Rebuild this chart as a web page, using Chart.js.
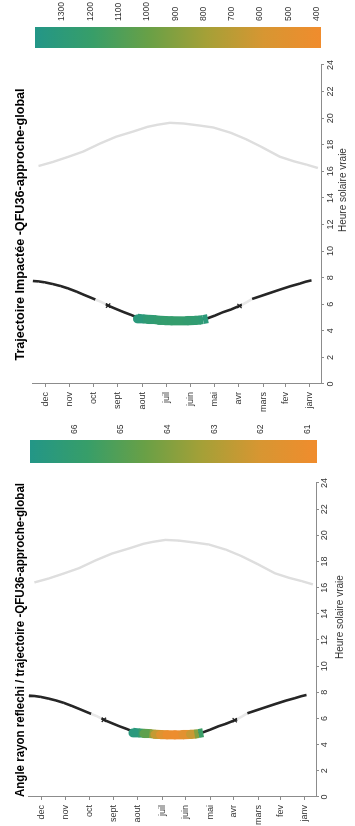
<!DOCTYPE html>
<html lang="fr">
<head>
<meta charset="utf-8">
<title>QFU36 approche global</title>
<script src="https://cdn.jsdelivr.net/npm/chart.js@4.4.1/dist/chart.umd.min.js"></script>
<style>
  html, body { margin: 0; padding: 0; background: #fff; overflow: hidden; }
  body { width: 355px; height: 826px; position: relative; }
  /* the sheet is laid out landscape, then turned a quarter turn */
  #sheet { position: absolute; left: 0; top: 0; width: 826px; height: 355px;
           transform-origin: 0 0; transform: translate(0, 826px) rotate(-90deg); }
  #sheet canvas { position: absolute; top: 0; }
</style>
</head>
<body>
<div id="sheet">
  <canvas id="angle" width="413" height="355" style="left:0"></canvas>
  <canvas id="angleBar" width="63" height="355" style="left:350px"></canvas>
  <canvas id="impact" width="413" height="355" style="left:413px"></canvas>
  <canvas id="impactBar" width="63" height="355" style="left:763px"></canvas>
</div>
<script>
// ---------------- data (day of year / true solar hour)

const monthDays   = [15, 46, 74, 105, 135, 166, 196, 227, 258, 288, 319, 349];
const monthLabels = ['janv', 'fev', 'mars', 'avr', 'mai', 'juin', 'juil', 'aout', 'sept', 'oct', 'nov', 'dec'];

// morning track
const morningDays  = [365, 358, 350, 340, 330, 321, 310, 300, 292, 286, 279, 273, 267, 258, 250, 241, 233, 225, 215, 205,
                      195, 185, 175, 165, 155, 144, 135, 125, 115, 107, 101, 95, 88, 78, 68, 53, 40, 28, 20, 13];
const morningHours = [7.75, 7.72, 7.65, 7.52, 7.37, 7.2, 6.95, 6.7, 6.5, 6.35, 6.18, 6.0, 5.82, 5.6, 5.4, 5.2, 5.0, 4.9, 4.85, 4.8,
                      4.78, 4.75, 4.75, 4.78, 4.85, 4.95, 5.15, 5.4, 5.6, 5.8, 5.95, 6.15, 6.4, 6.6, 6.8, 7.1, 7.35, 7.55, 7.7, 7.8];

// pale stretches of the morning track (days) and the crosses next to them
const paleSpans  = [[273, 286], [88, 101]];
const crossDays  = [270, 104];
const crossHours = [5.9, 5.87];

// impacted part of the track, coloured by value
const bandDays     = [233, 226, 219, 212, 205, 198, 190, 180, 170, 160, 155, 150, 144];
const bandHours    = [4.95, 4.9, 4.87, 4.85, 4.8, 4.78, 4.76, 4.75, 4.75, 4.78, 4.8, 4.85, 4.92];
const angleValues  = [66.9, 66.2, 65.3, 64.2, 63.0, 62.0, 61.3, 60.8, 61.1, 61.8, 63.0, 64.8, 66.5];
const impactValues = [1330, 1300, 1270, 1250, 1240, 1230, 1225, 1220, 1225, 1240, 1260, 1290, 1320];
const angleRange   = [60.8, 66.95];
const impactRange  = [385, 1395];

// evening track
const duskDays  = [358, 340, 320, 301, 280, 260, 238, 220, 208, 192, 175, 155, 137, 115, 95, 75, 53, 35, 19, 5];
const duskHours = [16.4, 16.7, 17.1, 17.5, 18.1, 18.6, 19.0, 19.35, 19.5, 19.65, 19.6, 19.45, 19.3, 18.9, 18.4, 17.8, 17.1, 16.75, 16.5, 16.25];

// ---------------- colours

// teal (high) -> green -> olive -> orange (low)
const CMAP = [
    [0.0, [240, 140, 45]],
    [0.2, [215, 150, 50]],
    [0.4, [165, 160, 55]],
    [0.6, [105, 160, 70]],
    [0.8, [55, 158, 105]],
    [1.0, [35, 150, 135]],
];
const FONT = '"Liberation Sans", Arial, sans-serif';
const TICK_COLOR = '#333';
const AXIS_COLOR = '#8c8c8c';

function colourAt(v, range) {
    let t = (v - range[0]) / (range[1] - range[0]);
    t = Math.max(0, Math.min(1, t));
    for (let i = 1; i < CMAP.length; i++) {
        if (t <= CMAP[i][0]) {
            const [t0, c0] = CMAP[i - 1];
            const [t1, c1] = CMAP[i];
            const f = (t - t0) / (t1 - t0);
            const c = c0.map((a, k) => Math.round(a + (c1[k] - a) * f));
            return 'rgb(' + c.join(',') + ')';
        }
    }
    return 'rgb(' + CMAP[CMAP.length - 1][1].join(',') + ')';
}

function isPale(d0, d1) {
    return paleSpans.some(s => Math.min(d0, d1) >= s[0] && Math.max(d0, d1) <= s[1]);
}

function points(days, hours) {
    return days.map((d, i) => ({x: hours[i], y: d}));
}

// x axis caption, drawn off-centre like the original figure
const axisCaption = {
    id: 'axisCaption',
    afterDraw(chart, args, opts) {
        const {ctx, chartArea} = chart;
        ctx.save();
        ctx.font = '10px ' + FONT;
        ctx.fillStyle = TICK_COLOR;
        ctx.textAlign = 'center';
        ctx.textBaseline = 'middle';
        ctx.fillText(opts.text, chartArea.left + opts.at * (chartArea.right - chartArea.left), opts.y);
        ctx.restore();
    }
};

// ---------------- charts

function trajectoryChart(id, title, values, range, lay) {
    return new Chart(document.getElementById(id), {
        type: 'line',
        data: {
            datasets: [
                {
                    label: 'impact',
                    data: points(bandDays, bandHours),
                    borderWidth: 9,
                    borderJoinStyle: 'round',
                    pointRadius: 0,
                    segment: {
                        borderColor: c => colourAt((values[c.p0DataIndex] + values[c.p1DataIndex]) / 2, range),
                    },
                },
                {
                    label: 'croix',
                    data: points(crossDays, crossHours),
                    showLine: false,
                    pointStyle: 'crossRot',
                    pointRadius: 3,
                    borderColor: '#222',
                    borderWidth: 1.3,
                },
                {
                    label: 'matin',
                    data: points(morningDays, morningHours),
                    borderColor: '#262626',
                    borderWidth: 2.6,
                    pointRadius: 0,
                    segment: {
                        borderColor: c => isPale(c.p0.parsed.y, c.p1.parsed.y) ? '#e8e8e8' : undefined,
                    },
                },
                {
                    label: 'soir',
                    data: points(duskDays, duskHours),
                    borderColor: '#dedede',
                    borderWidth: 2.4,
                    pointRadius: 0,
                },
            ]
        },
        options: {
            responsive: false,
            animation: false,
            devicePixelRatio: 1,
            layout: {padding: {top: 7, left: 0, right: lay.right, bottom: 0}},
            plugins: {
                legend: {display: false},
                tooltip: {enabled: false},
                title: {
                    display: true,
                    text: title,
                    fullSize: false,
                    color: '#000',
                    font: {family: FONT, size: 12.6, weight: 'bold'},
                    padding: {top: 6, bottom: lay.titleGap},
                },
                axisCaption: {text: 'Heure solaire vraie', at: lay.captionAt, y: lay.captionY},
            },
            scales: {
                x: {
                    type: 'linear',
                    min: 0,
                    max: 24,
                    ticks: {stepSize: 2, color: TICK_COLOR, font: {family: FONT, size: 9}, padding: lay.xPad, maxRotation: 0},
                    grid: {drawOnChartArea: false, tickLength: 3, color: AXIS_COLOR},
                    border: {color: AXIS_COLOR},
                    afterFit: s => { s.height = lay.xHeight; },
                },
                y: {
                    type: 'linear',
                    min: 1,
                    max: 366,
                    afterBuildTicks: s => { s.ticks = monthDays.map(v => ({value: v})); },
                    ticks: {
                        autoSkip: false,
                        color: TICK_COLOR,
                        font: {family: FONT, size: 9},
                        padding: 5,
                        callback: (v, i) => monthLabels[i],
                    },
                    grid: {drawOnChartArea: false, tickLength: 3, color: AXIS_COLOR},
                    border: {color: AXIS_COLOR},
                    afterFit: s => { s.width = 29; },
                },
            },
        },
        plugins: [axisCaption],
    });
}

function colourBar(id, range, step, pad) {
    return new Chart(document.getElementById(id), {
        type: 'bar',
        data: {
            labels: [''],
            datasets: [{
                data: [range],
                barPercentage: 1,
                categoryPercentage: 1,
                borderWidth: 0,
                backgroundColor: c => {
                    const a = c.chart.chartArea;
                    if (!a) return 'transparent';
                    const g = c.chart.ctx.createLinearGradient(0, a.bottom, 0, a.top);
                    CMAP.forEach(s => g.addColorStop(s[0], 'rgb(' + s[1].join(',') + ')'));
                    return g;
                },
            }]
        },
        options: {
            responsive: false,
            animation: false,
            devicePixelRatio: 1,
            layout: {padding: pad},
            plugins: {legend: {display: false}, tooltip: {enabled: false}},
            scales: {
                x: {display: false},
                y: {
                    position: 'right',
                    min: range[0],
                    max: range[1],
                    grid: {display: false, drawTicks: false},
                    border: {display: false},
                    // round tick values only (multiples of the step)
                    afterBuildTicks: s => {
                        const ticks = [];
                        for (let v = Math.ceil(range[0] / step) * step; v <= range[1]; v += step) ticks.push({value: v});
                        s.ticks = ticks;
                    },
                    ticks: {
                        padding: 6,
                        color: TICK_COLOR,
                        font: {family: FONT, size: 8.5},
                        callback: v => String(v),
                    },
                    afterFit: s => { s.width = 27; },
                },
            },
        },
    });
}

trajectoryChart('angle', 'Angle rayon reflechi / trajectoire -QFU36-approche-global', angleValues, angleRange,
    {right: 70, titleGap: 0, xHeight: 39, xPad: 0, captionAt: 0.573, captionY: 340});
colourBar('angleBar', angleRange, 1, {left: 13, top: 30, bottom: 38, right: 0});

trajectoryChart('impact', 'Trajectoire Impactée -QFU36-approche-global', impactValues, impactRange,
    {right: 65, titleGap: 4, xHeight: 34, xPad: 1, captionAt: 0.608, captionY: 343});
colourBar('impactBar', impactRange, 100, {left: 15, top: 35, bottom: 34, right: 0});
</script>
</body>
</html>
